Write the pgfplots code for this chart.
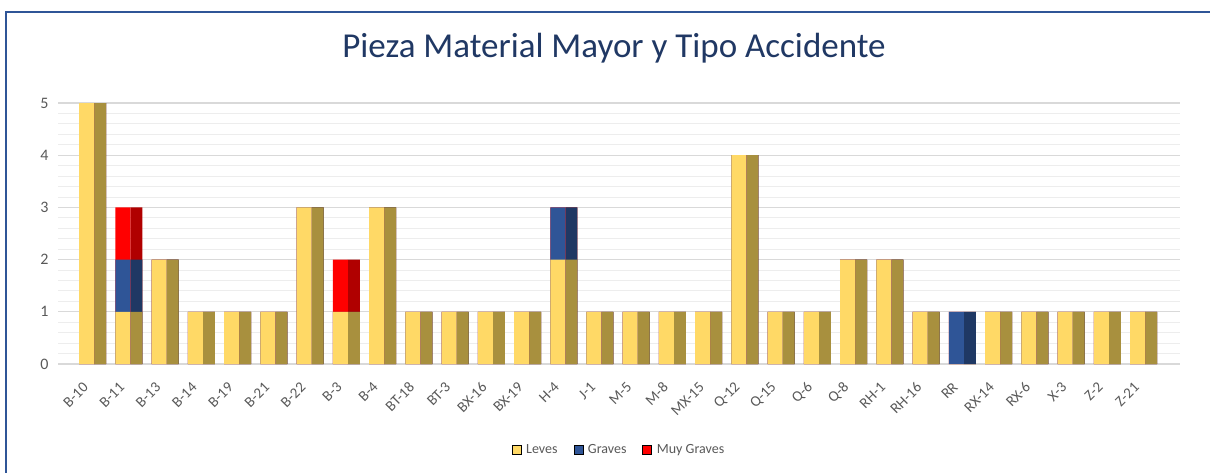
\documentclass[border=0pt]{standalone}
\usepackage{pgfplots}
\pgfplotsset{compat=1.18}
\usepackage{pgfplotstable}
\usepackage{fontspec}
\setmainfont{Carlito}
\definecolor{lev}{HTML}{FFD966}
\definecolor{levs}{HTML}{A8903E}
\definecolor{gra}{HTML}{2F5597}
\definecolor{gras}{HTML}{1F3864}
\definecolor{muy}{HTML}{FF0000}
\definecolor{muys}{HTML}{B00000}
\definecolor{ttl}{HTML}{203864}
\definecolor{frm}{HTML}{2F5597}
\definecolor{lbl}{HTML}{595959}
\pgfplotstableread{
x L G M
0 5 0 0
1 1 1 1
2 2 0 0
3 1 0 0
4 1 0 0
5 1 0 0
6 3 0 0
7 1 0 1
8 3 0 0
9 1 0 0
10 1 0 0
11 1 0 0
12 1 0 0
13 2 1 0
14 1 0 0
15 1 0 0
16 1 0 0
17 1 0 0
18 4 0 0
19 1 0 0
20 1 0 0
21 2 0 0
22 2 0 0
23 1 0 0
24 0 1 0
25 1 0 0
26 1 0 0
27 1 0 0
28 1 0 0
29 1 0 0
}\data
\begin{document}
\begin{tikzpicture}[x=1pt,y=1pt]
\useasboundingbox (0,0) rectangle (1210,472);
\draw[frm, line width=2.5pt] (6,-5) -- (6,460) -- (1220,460);
\node[font=\fontsize{35}{40}\selectfont, text=ttl] at (614,424) {Pieza Material Mayor y Tipo Accidente};
\begin{axis}[at={(58pt,108pt)}, anchor=south west, scale only axis,
  width=1122pt, height=261pt,
  ymin=0, ymax=5, xmin=-0.79, xmax=30.17,
  ytick={0,...,5}, minor y tick num=4,
  xtick={0,...,29},
  xticklabels={B-10,B-11,B-13,B-14,B-19,B-21,B-22,B-3,B-4,BT-18,BT-3,BX-16,BX-19,H-4,J-1,M-5,M-8,MX-15,Q-12,Q-15,Q-6,Q-8,RH-1,RH-16,RR,RX-14,RX-6,X-3,Z-2,Z-21},
  /pgf/number format/assume math mode=true,
  ymajorgrids, yminorgrids,
  major grid style={draw=black!15, line width=1.2pt},
  minor grid style={draw=black!7, line width=0.9pt},
  axis line style={draw=none}, major tick length=0pt, minor tick length=0pt,
  tick style={draw=none},
  yticklabel style={font=\fontsize{16}{18}\selectfont, text=lbl, xshift=-6pt},
  xticklabel style={font=\fontsize{15}{17}\selectfont, text=lbl, rotate=45, anchor=east, xshift=-12pt, yshift=-14pt},
  legend style={at={(0.5,-0.33)}, anchor=center, draw=none, legend columns=3,
    font=\fontsize{14}{16}\selectfont, text=lbl,
    /tikz/every odd column/.append style={column sep=3pt},
    /tikz/every even column/.append style={column sep=14pt}},
  legend image code/.code={\fill[#1] (0pt,-4.5pt) rectangle (9pt,4.5pt);},
]
% side faces
\addplot[ybar, bar width=12pt, bar shift=13.5pt, fill=muys, draw=none, forget plot] table[x=x, y expr=\thisrow{L}+\thisrow{G}+\thisrow{M}] {\data};
\addplot[ybar, bar width=12pt, bar shift=13.5pt, fill=gras, draw=none, forget plot] table[x=x, y expr=\thisrow{L}+\thisrow{G}] {\data};
\addplot[ybar, bar width=12pt, bar shift=13.5pt, fill=levs, draw=none, forget plot] table[x=x, y=L] {\data};
% front faces
\addplot[ybar, bar width=15pt, bar shift=0pt, fill=muy, draw=none, forget plot] table[x=x, y expr=\thisrow{L}+\thisrow{G}+\thisrow{M}] {\data};
\addplot[ybar, bar width=15pt, bar shift=0pt, fill=gra, draw=none, forget plot] table[x=x, y expr=\thisrow{L}+\thisrow{G}] {\data};
\addplot[ybar, bar width=15pt, bar shift=0pt, fill=lev, draw=none, forget plot] table[x=x, y=L] {\data};
\addlegendimage{fill=lev}
\addlegendentry{Leves}
\addlegendimage{fill=gra}
\addlegendentry{Graves}
\addlegendimage{fill=muy}
\addlegendentry{Muy Graves}
\end{axis}
\end{tikzpicture}
\end{document}
